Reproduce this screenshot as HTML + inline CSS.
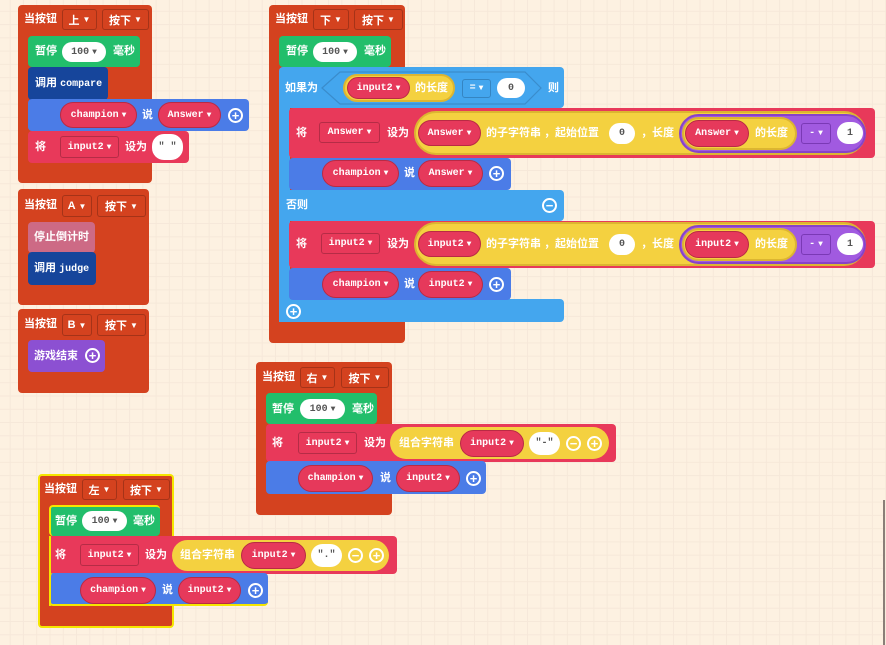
<!DOCTYPE html>
<html><head><meta charset="utf-8"><style>
body{margin:0;width:886px;height:645px;overflow:hidden;background-color:#fdf1e1;
background-image:linear-gradient(to right,#f6e8d9 1px,transparent 1px),linear-gradient(to bottom,#f6e8d9 1px,transparent 1px);
background-size:13.27px 13.27px;background-position:9.7px 10.8px;position:relative;
font-family:"Liberation Sans","Noto Sans CJK SC",sans-serif;}
.a{position:absolute;box-sizing:border-box}
.k{border-radius:4px}
.o{background:#d4421f}.g{background:#22be6b}.db{background:#16459b}.bl{background:#4b7ce7}
.r{background:#e8395a}.lb{background:#44a6ee}.pk{background:#cd6a85}.pu{background:#8c50d2}
.t{position:absolute;color:#fff;font-weight:bold;font-size:11px;line-height:14px;height:14px;white-space:nowrap;font-family:"Liberation Sans","Noto Sans CJK SC",sans-serif}
.m{font-family:"Liberation Mono","Noto Sans CJK SC",monospace;font-size:10px}
.rp,.dd,.wp,.yp,.pp{position:absolute;box-sizing:border-box;display:flex;align-items:center;justify-content:center;font-weight:bold;font-size:10px;font-family:"Liberation Mono","Noto Sans CJK SC",monospace;color:#fff;white-space:nowrap}
.rp{background:#e6395b;border:1px solid #b92a44;border-radius:14px}
.dd{border:1px solid rgba(0,0,0,.22);border-radius:3px}
.wp{background:#fff;border-radius:12px;color:#555}
.yp{background:#f4d140;border:2px solid #dcb531;border-radius:24px}
.pp{background:#a15ae0;border:2px solid #8842c9;border-radius:22px}
.ci{position:absolute;width:15px;height:15px;border:2px solid #fff;border-radius:50%;box-sizing:border-box;color:#fff;font-weight:bold;font-size:13px;line-height:11px;text-align:center;font-family:"Liberation Sans",sans-serif}
i{font-style:normal;font-size:8px;margin-left:3px}
</style></head><body>

<!-- Block 上 -->
<div class="a k o" style="left:18px;top:5px;width:134px;height:178px"></div>
<div class="t" style="left:24px;top:12px">当按钮</div>
<div class="dd o" style="left:62px;top:9px;width:35px;height:21px;font-family:'Liberation Sans','Noto Sans CJK SC';font-size:11px">上<i>▼</i></div>
<div class="dd o" style="left:102px;top:9px;width:47px;height:21px;font-family:'Liberation Sans','Noto Sans CJK SC';font-size:11px">按下<i>▼</i></div>
<div class="a k g" style="left:28px;top:36px;width:112px;height:31px"></div>
<div class="t" style="left:35px;top:44px">暂停</div>
<div class="wp" style="left:62px;top:42px;width:44px;height:20px">100<i>▼</i></div>
<div class="t" style="left:113px;top:44px">毫秒</div>
<div class="a k db" style="left:28px;top:67px;width:80px;height:33px"></div>
<div class="t" style="left:35px;top:76px">调用 <span class="m">compare</span></div>
<div class="a k bl" style="left:28px;top:99px;width:221px;height:32px"></div>
<div class="rp" style="left:60px;top:102px;width:77px;height:26px">champion<i>▼</i></div>
<div class="t" style="left:142px;top:108px">说</div>
<div class="rp" style="left:158px;top:102px;width:63px;height:26px">Answer<i>▼</i></div>
<div class="ci" style="left:228px;top:108px">+</div>
<div class="a k r" style="left:28px;top:131px;width:161px;height:32px"></div>
<div class="t" style="left:35px;top:140px">将</div>
<div class="dd" style="left:60px;top:136px;width:59px;height:22px">input2<i>▼</i></div>
<div class="t" style="left:125px;top:140px">设为</div>
<div class="wp" style="left:152px;top:134px;width:31px;height:26px">" "</div>

<!-- Block A -->
<div class="a k o" style="left:18px;top:189px;width:131px;height:116px"></div>
<div class="t" style="left:24px;top:198px">当按钮</div>
<div class="dd o" style="left:62px;top:195px;width:30px;height:22px;font-family:'Liberation Sans';font-size:11px">A<i>▼</i></div>
<div class="dd o" style="left:97px;top:195px;width:49px;height:22px;font-family:'Liberation Sans','Noto Sans CJK SC';font-size:11px">按下<i>▼</i></div>
<div class="a k pk" style="left:28px;top:222px;width:67px;height:31px"></div>
<div class="t" style="left:34px;top:230px">停止倒计时</div>
<div class="a k db" style="left:28px;top:252px;width:68px;height:33px"></div>
<div class="t" style="left:34px;top:261px">调用 <span class="m">judge</span></div>

<!-- Block B -->
<div class="a k o" style="left:18px;top:309px;width:131px;height:84px"></div>
<div class="t" style="left:24px;top:317px">当按钮</div>
<div class="dd o" style="left:62px;top:314px;width:30px;height:22px;font-family:'Liberation Sans';font-size:11px">B<i>▼</i></div>
<div class="dd o" style="left:97px;top:314px;width:49px;height:22px;font-family:'Liberation Sans','Noto Sans CJK SC';font-size:11px">按下<i>▼</i></div>
<div class="a k pu" style="left:28px;top:340px;width:77px;height:32px"></div>
<div class="t" style="left:34px;top:349px">游戏结束</div>
<div class="ci" style="left:85px;top:348px">+</div>

<!-- Block 下 -->
<div class="a k o" style="left:269px;top:5px;width:136px;height:338px"></div>
<div class="t" style="left:275px;top:12px">当按钮</div>
<div class="dd o" style="left:313px;top:9px;width:36px;height:21px;font-family:'Liberation Sans','Noto Sans CJK SC';font-size:11px">下<i>▼</i></div>
<div class="dd o" style="left:354px;top:9px;width:49px;height:21px;font-family:'Liberation Sans','Noto Sans CJK SC';font-size:11px">按下<i>▼</i></div>
<div class="a k g" style="left:279px;top:36px;width:112px;height:31px"></div>
<div class="t" style="left:286px;top:44px">暂停</div>
<div class="wp" style="left:313px;top:42px;width:44px;height:20px">100<i>▼</i></div>
<div class="t" style="left:364px;top:44px">毫秒</div>
<div class="a k lb" style="left:279px;top:67px;width:285px;height:41px"></div>
<div class="a lb" style="left:279px;top:100px;width:11px;height:222px"></div>
<div class="a k lb" style="left:279px;top:190px;width:285px;height:31px"></div>
<div class="a k lb" style="left:279px;top:299px;width:285px;height:23px"></div>
<svg class="a" style="left:0;top:0" width="886" height="645"><polygon points="322,88 340,72 525,72 541,88 525,104 340,104" fill="#44a6ee" stroke="#3a8ccc" stroke-width="1.2"/></svg>
<div class="t" style="left:285px;top:81px">如果为</div>
<div class="yp" style="left:343px;top:74px;width:112px;height:28px"></div>
<div class="rp" style="left:347px;top:77px;width:63px;height:22px">input2<i>▼</i></div>
<div class="t" style="left:415px;top:81px">的长度</div>
<div class="dd" style="left:462px;top:79px;width:29px;height:19px;border-color:#3585c2">=<i>▼</i></div>
<div class="wp" style="left:497px;top:78px;width:28px;height:20px">0</div>
<div class="t" style="left:548px;top:81px">则</div>

<div class="a k r" style="left:289px;top:108px;width:586px;height:50px"></div>
<div class="t" style="left:296px;top:126px">将</div>
<div class="dd" style="left:319px;top:122px;width:61px;height:21px">Answer<i>▼</i></div>
<div class="t" style="left:387px;top:126px">设为</div>
<div class="yp" style="left:414px;top:111px;width:452px;height:44px"></div>
<div class="rp" style="left:418px;top:120px;width:63px;height:26px">Answer<i>▼</i></div>
<div class="t" style="left:486px;top:126px">的子字符串 ，起始位置</div>
<div class="wp" style="left:609px;top:123px;width:26px;height:21px">0</div>
<div class="t" style="left:641px;top:126px">，长度</div>
<div class="pp" style="left:679px;top:114px;width:187px;height:39px"></div>
<div class="yp" style="left:682px;top:117px;width:115px;height:33px"></div>
<div class="rp" style="left:685px;top:120px;width:64px;height:27px">Answer<i>▼</i></div>
<div class="t" style="left:755px;top:126px">的长度</div>
<div class="dd" style="left:801px;top:123px;width:30px;height:21px;border-color:#7a39b5">-<i>▼</i></div>
<div class="wp" style="left:837px;top:122px;width:26px;height:22px">1</div>

<div class="a k bl" style="left:289px;top:158px;width:222px;height:32px"></div>
<div class="rp" style="left:322px;top:160px;width:77px;height:27px">champion<i>▼</i></div>
<div class="t" style="left:404px;top:166px">说</div>
<div class="rp" style="left:418px;top:160px;width:65px;height:27px">Answer<i>▼</i></div>
<div class="ci" style="left:489px;top:166px">+</div>
<div class="t" style="left:286px;top:198px">否则</div>
<div class="ci" style="left:542px;top:198px">−</div>

<div class="a k r" style="left:289px;top:221px;width:586px;height:47px"></div>
<div class="t" style="left:296px;top:237px">将</div>
<div class="dd" style="left:321px;top:233px;width:59px;height:21px">input2<i>▼</i></div>
<div class="t" style="left:387px;top:237px">设为</div>
<div class="yp" style="left:414px;top:222px;width:452px;height:44px"></div>
<div class="rp" style="left:418px;top:231px;width:63px;height:26px">input2<i>▼</i></div>
<div class="t" style="left:486px;top:237px">的子字符串 ，起始位置</div>
<div class="wp" style="left:609px;top:234px;width:26px;height:21px">0</div>
<div class="t" style="left:641px;top:237px">，长度</div>
<div class="pp" style="left:679px;top:225px;width:187px;height:39px"></div>
<div class="yp" style="left:682px;top:228px;width:115px;height:33px"></div>
<div class="rp" style="left:685px;top:231px;width:64px;height:27px">input2<i>▼</i></div>
<div class="t" style="left:755px;top:237px">的长度</div>
<div class="dd" style="left:801px;top:234px;width:30px;height:21px;border-color:#7a39b5">-<i>▼</i></div>
<div class="wp" style="left:837px;top:233px;width:26px;height:22px">1</div>

<div class="a k bl" style="left:289px;top:268px;width:222px;height:32px"></div>
<div class="rp" style="left:322px;top:271px;width:77px;height:27px">champion<i>▼</i></div>
<div class="t" style="left:404px;top:277px">说</div>
<div class="rp" style="left:418px;top:271px;width:65px;height:27px">input2<i>▼</i></div>
<div class="ci" style="left:489px;top:277px">+</div>
<div class="ci" style="left:286px;top:304px">+</div>

<!-- Block 右 -->
<div class="a k o" style="left:256px;top:362px;width:136px;height:153px"></div>
<div class="t" style="left:262px;top:370px">当按钮</div>
<div class="dd o" style="left:300px;top:367px;width:35px;height:21px;font-family:'Liberation Sans','Noto Sans CJK SC';font-size:11px">右<i>▼</i></div>
<div class="dd o" style="left:341px;top:367px;width:48px;height:21px;font-family:'Liberation Sans','Noto Sans CJK SC';font-size:11px">按下<i>▼</i></div>
<div class="a k g" style="left:266px;top:393px;width:111px;height:31px"></div>
<div class="t" style="left:272px;top:402px">暂停</div>
<div class="wp" style="left:300px;top:399px;width:45px;height:20px">100<i>▼</i></div>
<div class="t" style="left:352px;top:402px">毫秒</div>
<div class="a k r" style="left:266px;top:424px;width:350px;height:38px"></div>
<div class="t" style="left:272px;top:436px">将</div>
<div class="dd" style="left:298px;top:432px;width:59px;height:22px">input2<i>▼</i></div>
<div class="t" style="left:364px;top:436px">设为</div>
<div class="yp" style="left:390px;top:427px;width:219px;height:32px;border:none"></div>
<div class="t" style="left:399px;top:436px">组合字符串</div>
<div class="rp" style="left:460px;top:430px;width:64px;height:27px">input2<i>▼</i></div>
<div class="wp" style="left:529px;top:432px;width:31px;height:23px">"-"</div>
<div class="ci" style="left:566px;top:436px">−</div>
<div class="ci" style="left:587px;top:436px">+</div>
<div class="a k bl" style="left:266px;top:461px;width:220px;height:33px"></div>
<div class="rp" style="left:298px;top:465px;width:75px;height:27px">champion<i>▼</i></div>
<div class="t" style="left:380px;top:471px">说</div>
<div class="rp" style="left:396px;top:465px;width:64px;height:27px">input2<i>▼</i></div>
<div class="ci" style="left:466px;top:471px">+</div>

<!-- Block 左 -->
<div class="a k o" style="left:38px;top:474px;width:136px;height:154px;border:2px solid #f5e600"></div>
<div class="t" style="left:44px;top:482px">当按钮</div>
<div class="dd o" style="left:82px;top:479px;width:35px;height:21px;font-family:'Liberation Sans','Noto Sans CJK SC';font-size:11px">左<i>▼</i></div>
<div class="dd o" style="left:123px;top:479px;width:47px;height:21px;font-family:'Liberation Sans','Noto Sans CJK SC';font-size:11px">按下<i>▼</i></div>
<div class="a k g" style="left:49px;top:505px;width:111px;height:31px;border:2px solid #f5e600;border-right:none;border-bottom:none"></div>
<div class="t" style="left:55px;top:514px">暂停</div>
<div class="wp" style="left:82px;top:511px;width:45px;height:20px">100<i>▼</i></div>
<div class="t" style="left:133px;top:514px">毫秒</div>
<div class="a k r" style="left:49px;top:536px;width:348px;height:38px"></div>
<div class="a" style="left:49px;top:536px;width:2px;height:70px;background:#f5e600"></div>
<div class="t" style="left:55px;top:548px">将</div>
<div class="dd" style="left:80px;top:544px;width:59px;height:22px">input2<i>▼</i></div>
<div class="t" style="left:145px;top:548px">设为</div>
<div class="yp" style="left:172px;top:540px;width:217px;height:31px;border:none"></div>
<div class="t" style="left:180px;top:548px">组合字符串</div>
<div class="rp" style="left:241px;top:542px;width:65px;height:27px">input2<i>▼</i></div>
<div class="wp" style="left:311px;top:544px;width:31px;height:23px">"."</div>
<div class="ci" style="left:348px;top:548px">−</div>
<div class="ci" style="left:369px;top:548px">+</div>
<div class="a k bl" style="left:49px;top:573px;width:219px;height:33px;border-left:2px solid #f5e600;border-bottom:2px solid #f5e600"></div>
<div class="rp" style="left:80px;top:577px;width:76px;height:27px">champion<i>▼</i></div>
<div class="t" style="left:162px;top:583px">说</div>
<div class="rp" style="left:178px;top:577px;width:63px;height:27px">input2<i>▼</i></div>
<div class="ci" style="left:248px;top:583px">+</div>

<div class="a" style="left:883px;top:500px;width:2px;height:145px;background:#8a7f78"></div>
</body></html>
